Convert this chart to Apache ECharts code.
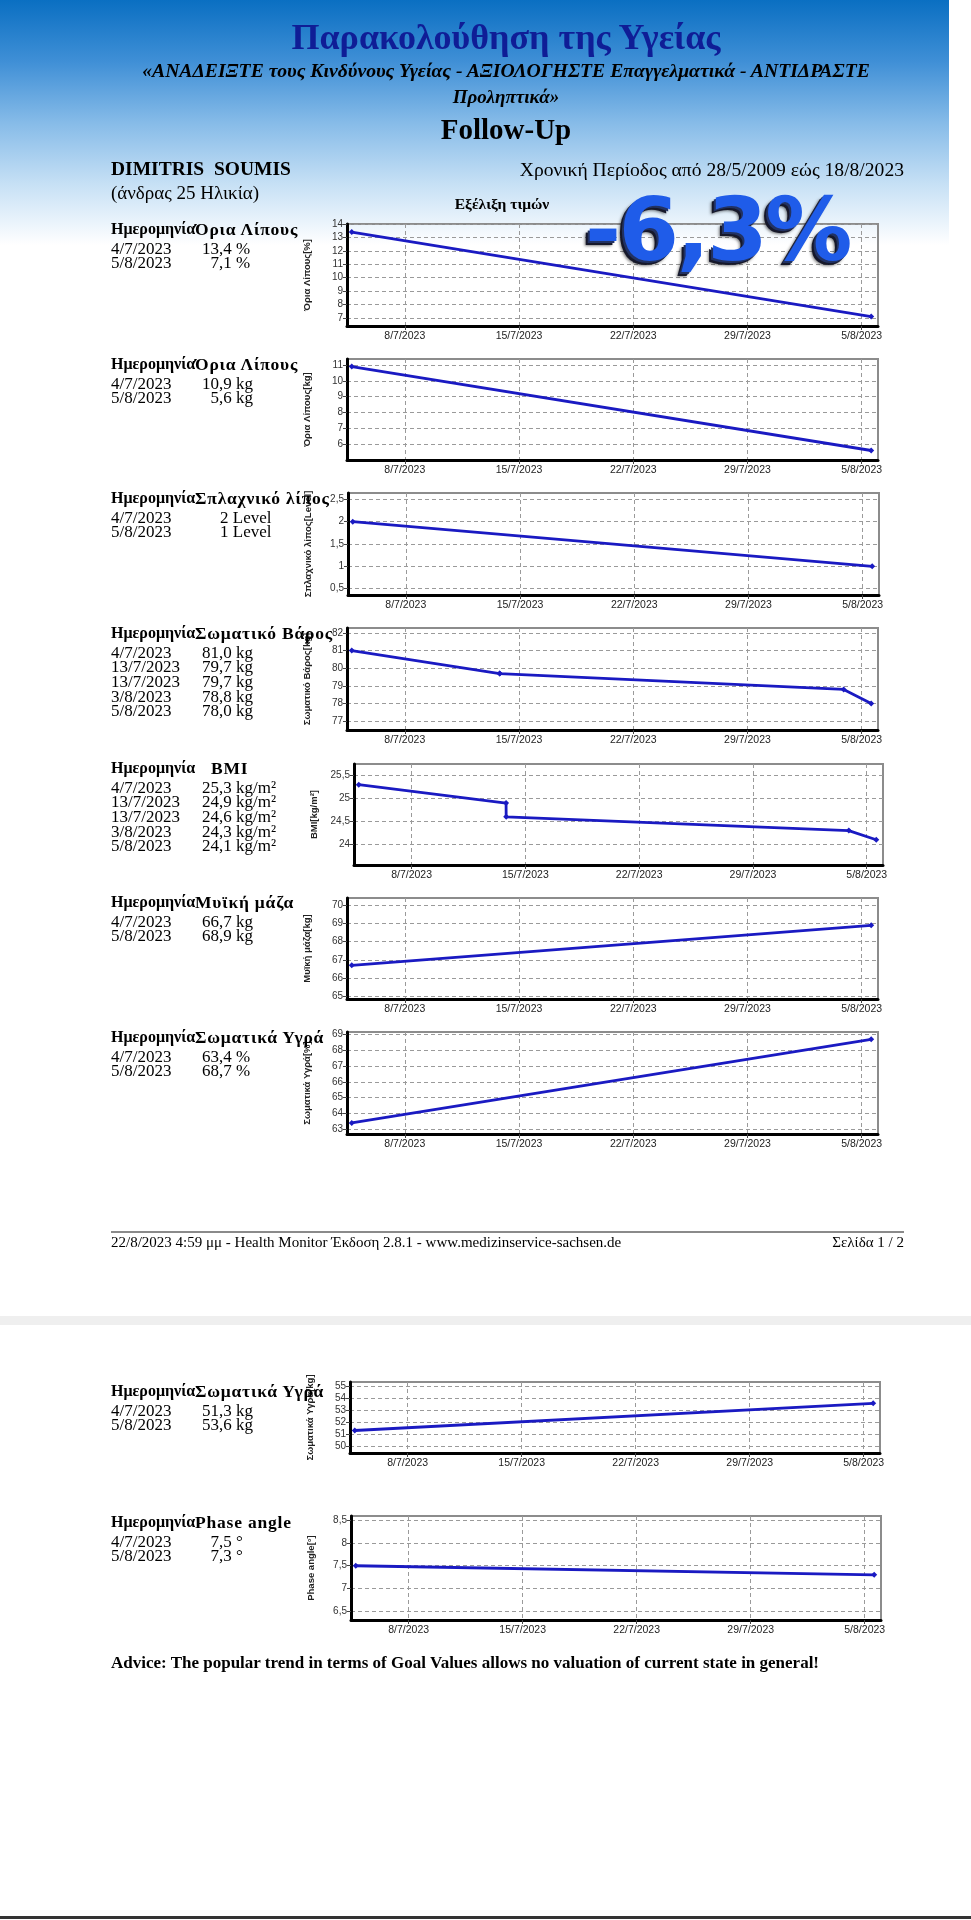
<!DOCTYPE html>
<html><head><meta charset="utf-8">
<script src="https://cdn.jsdelivr.net/npm/echarts@6/dist/echarts.min.js"></script>
<style>
html,body{margin:0;padding:0;background:#fff;}
#page{position:relative;width:971px;height:1920px;overflow:hidden;background:#fff;}
#hdr{position:absolute;left:0;top:0;width:949px;height:245px;z-index:0;
 background:linear-gradient(to bottom,#0a6fc2 0%,#3f8fd6 25%,#86bbe8 50%,#c6e0f5 75%,#ffffff 100%);}
#chart{position:absolute;left:0;top:0;width:971px;height:1920px;z-index:1;}
.t{position:absolute;white-space:pre;font-family:"Liberation Serif","Times New Roman",serif;color:#000;z-index:2;}
.c{transform:translateX(-50%);}
.r{transform:translateX(-100%);}
#big{position:absolute;left:585px;top:187px;z-index:3;font-family:"DejaVu Sans",Arial,sans-serif;font-weight:bold;
 font-size:87px;line-height:87px;letter-spacing:-2.5px;color:#1f5ce9;white-space:pre;
 text-shadow:-2px 2px 0 #223262,-4px 4px 0 #16182a,-5px 5px 3px rgba(0,0,0,0.5);}
.band{position:absolute;left:0;width:971px;z-index:0;}
</style></head>
<body><div id="page">
<div id="hdr"></div>
<div id="chart"></div>
<div id="texts"></div>
<div id="big">-6,3%</div>
<div class="band" style="top:1316px;height:9px;background:#efefef;"></div>
<div class="band" style="top:1231px;left:111px;width:793px;height:2px;background:#8a8a8a;"></div>
<div class="band" style="top:1916px;height:3px;background:#333;"></div>
</div>
<script>
// ---------------- DATA ----------------
const datesTwo  = ['2023-07-04T18:00', '2023-08-05T14:00'];
const datesFive = ['2023-07-04T18:00', '2023-07-13T19:30', '2023-07-13T19:40', '2023-08-03T21:30', '2023-08-05T14:00'];
const fatPct    = [13.4, 7.1];
const fatKg     = [10.9, 5.6];
const visceral  = [2, 1];
const weight    = [81.0, 79.7, 79.7, 78.8, 78.0];
const bmi       = [25.3, 24.9, 24.6, 24.3, 24.1];
const muscle    = [66.7, 68.9];
const waterPct  = [63.4, 68.7];
const waterKg   = [51.3, 53.6];
const phase     = [7.5, 7.3];
const xTickDates = ['2023-07-08T00:00', '2023-07-15T00:00', '2023-07-22T00:00', '2023-07-29T00:00', '2023-08-05T00:00'];
const xRange = ['2023-07-04T11:00', '2023-08-06T00:00'];
const yTicksFatPct   = [7, 8, 9, 10, 11, 12, 13, 14];
const yTicksFatKg    = [6, 7, 8, 9, 10, 11];
const yTicksVisceral = [0.5, 1, 1.5, 2, 2.5];
const yTicksWeight   = [77, 78, 79, 80, 81, 82];
const yTicksBmi      = [24, 24.5, 25, 25.5];
const yTicksMuscle   = [65, 66, 67, 68, 69, 70];
const yTicksWaterPct = [63, 64, 65, 66, 67, 68, 69];
const yTicksWaterKg  = [50, 51, 52, 53, 54, 55];
const yTicksPhase    = [6.5, 7, 7.5, 8, 8.5];

// ---------------- CHART DEFINITIONS ----------------
const charts = [
 {head:'Όρια Λίπους', axisName:'Όρια Λίπους[%]', unit:'%', dates:datesTwo, vals:fatPct, ticks:yTicksFatPct, min:6.4, max:14},
 {head:'Όρια Λίπους', axisName:'Όρια Λίπους[kg]', unit:'kg', dates:datesTwo, vals:fatKg, ticks:yTicksFatKg, min:5.0, max:11.38},
 {head:'Σπλαχνικό λίπος', axisName:'Σπλαχνικό λίπος[Level]', unit:'Level', dates:datesTwo, vals:visceral, ticks:yTicksVisceral, min:0.36, max:2.64, intVal:true},
 {head:'Σωματικό Βάρος', axisName:'Σωματικό Βάρος[kg]', unit:'kg', dates:datesFive, vals:weight, ticks:yTicksWeight, min:76.5, max:82.28},
 {head:'BMI', axisName:'BMI[kg/m²]', unit:'kg/m²', dates:datesFive, vals:bmi, ticks:yTicksBmi, min:23.55, max:25.75},
 {head:'Μυϊκή μάζα', axisName:'Μυϊκή μάζα[kg]', unit:'kg', dates:datesTwo, vals:muscle, ticks:yTicksMuscle, min:64.85, max:70.4},
 {head:'Σωματικά Υγρά', axisName:'Σωματικά Υγρά[%]', unit:'%', dates:datesTwo, vals:waterPct, ticks:yTicksWaterPct, min:62.7, max:69.16},
 {head:'Σωματικά Υγρά', axisName:'Σωματικά Υγρά[kg]', unit:'kg', dates:datesTwo, vals:waterKg, ticks:yTicksWaterKg, min:49.4, max:55.4},
 {head:'Phase angle', axisName:'Phase angle[°]', unit:'°', dates:datesTwo, vals:phase, ticks:yTicksPhase, min:6.3, max:8.6}
];
// layout (pixels)
const gridLayout = [
 {left:347, top:224, width:531, height:102},
 {left:347, top:359, width:531, height:101},
 {left:348, top:493, width:531, height:102},
 {left:347, top:628, width:531, height:102},
 {left:354, top:764, width:529, height:101},
 {left:347, top:898, width:531, height:101},
 {left:347, top:1032, width:531, height:102},
 {left:350, top:1382, width:530, height:71},
 {left:351, top:1516, width:530, height:104}
];
const headY = [229, 364, 498, 633, 768, 902, 1037, 1391, 1522];

const ts = s => Date.parse(s + ':00Z');
const fmtDate = v => { const d = new Date(v); return d.getUTCDate() + '/' + (d.getUTCMonth() + 1) + '/' + d.getUTCFullYear(); };
const fmtNum = v => String(v).replace('.', ',');
const xTicks = xTickDates.map(ts);

// ---------------- TEXT ----------------
const T = document.getElementById('texts');
function txt(s, x, yc, size, opts) {
  opts = opts || {};
  const d = document.createElement('div');
  d.className = 't' + (opts.cls ? ' ' + opts.cls : '');
  const lh = Math.round(size * 1.15);
  d.style.left = x + 'px';
  d.style.top = (yc - lh / 2) + 'px';
  d.style.fontSize = size + 'px';
  d.style.lineHeight = lh + 'px';
  if (opts.bold) d.style.fontWeight = 'bold';
  if (opts.italic) d.style.fontStyle = 'italic';
  if (opts.color) d.style.color = opts.color;
  if (opts.ls) d.style.letterSpacing = opts.ls + 'px';
  d.textContent = s;
  T.appendChild(d);
  return d;
}
txt('Παρακολούθηση της Υγείας', 506, 37, 36, {cls:'c', bold:true, color:'#0f1d96'});
txt('«ΑΝΑΔΕΙΞΤΕ τους Κινδύνους Υγείας - ΑΞΙΟΛΟΓΗΣΤΕ Επαγγελματικά - ΑΝΤΙΔΡΑΣΤΕ', 506, 70, 19.7, {cls:'c', bold:true, italic:true});
txt('Προληπτικά»', 506, 97, 19, {cls:'c', bold:true, italic:true});
txt('Follow-Up', 506, 129, 29, {cls:'c', bold:true});
txt('DIMITRIS  SOUMIS', 111, 169, 19.5, {bold:true});
txt('(άνδρας 25 Ηλικία)', 111, 193, 19);
txt('Χρονική Περίοδος από 28/5/2009 εώς 18/8/2023', 904, 169, 19.6, {cls:'r'});
txt('Εξέλιξη τιμών', 502, 204, 15.5, {cls:'c', bold:true});

charts.forEach((c, i) => {
  const y0 = headY[i];
  txt('Ημερομηνία', 111, y0, 16, {bold:true});
  txt(c.head, c.head === 'BMI' ? 211 : 195, y0, 17.5, {bold:true, ls:0.8});
  c.dates.forEach((d, k) => {
    const y = y0 + 19.6 + k * 14.7;
    txt(fmtDate(ts(d)), 111, y, 17);
    const v = c.vals[k];
    const s = (c.intVal ? String(v) : fmtNum(v.toFixed(1))) + ' ' + c.unit;
    let x = 202;
    if (c.intVal) x = 220; else if (Math.abs(v) < 10) x = 210.5;
    txt(s, x, y, 17);
  });
});
txt('22/8/2023 4:59 μμ - Health Monitor Έκδοση 2.8.1 - www.medizinservice-sachsen.de', 111, 1242, 15);
txt('Σελίδα 1 / 2', 904, 1242, 15, {cls:'r'});
txt('Advice: The popular trend in terms of Goal Values allows no valuation of current state in general!', 111, 1663, 17, {bold:true});

// ---------------- CHARTS ----------------
const grids = [], xAxes = [], yAxes = [], series = [];
const split = {show:true, lineStyle:{color:'#9a9a9a', width:1, type:[4, 3]}};
charts.forEach((c, i) => {
  const L = gridLayout[i];
  grids.push({left:L.left, top:L.top, width:L.width, height:L.height, show:true, borderColor:'#8c8c8c', borderWidth:2,
    containLabel:false, outerBoundsMode:'none', backgroundColor:'transparent'});
  xAxes.push({type:'value', gridIndex:i, min:ts(xRange[0]), max:ts(xRange[1]),
    axisLine:{show:true, onZero:false, lineStyle:{color:'#000', width:3}},
    axisTick:{show:true, length:4, customValues:xTicks, lineStyle:{color:'#444', width:1}},
    axisLabel:{show:true, customValues:xTicks, formatter:fmtDate, fontSize:10.5, color:'#222', margin:5, fontFamily:'Liberation Sans'},
    splitLine:split, minorTick:{show:false}});
  yAxes.push({type:'value', gridIndex:i, min:c.min, max:c.max,
    name:c.axisName, nameLocation:'middle', nameGap:35,
    nameTextStyle:{fontSize:9.5, fontWeight:'bold', color:'#222', fontFamily:'Liberation Sans'},
    axisLine:{show:true, onZero:false, lineStyle:{color:'#000', width:3}},
    axisTick:{show:true, length:4, customValues:c.ticks, lineStyle:{color:'#444', width:1}},
    axisLabel:{show:true, customValues:c.ticks, formatter:fmtNum, fontSize:10, color:'#333', margin:4, fontFamily:'Liberation Sans'},
    splitLine:split});
  series.push({type:'line', xAxisIndex:i, yAxisIndex:i, animation:false, silent:true,
    data:c.dates.map((d, k) => [ts(d), c.vals[k]]),
    symbol:'diamond', symbolSize:6, showSymbol:true,
    lineStyle:{color:'#1a1ac2', width:2.8}, itemStyle:{color:'#1a1ac2'}});
});
const chart = echarts.init(document.getElementById('chart'), null, {renderer:'canvas'});
chart.setOption({backgroundColor:'transparent', animation:false, grid:grids, xAxis:xAxes, yAxis:yAxes, series:series});
</script>
</body></html>
